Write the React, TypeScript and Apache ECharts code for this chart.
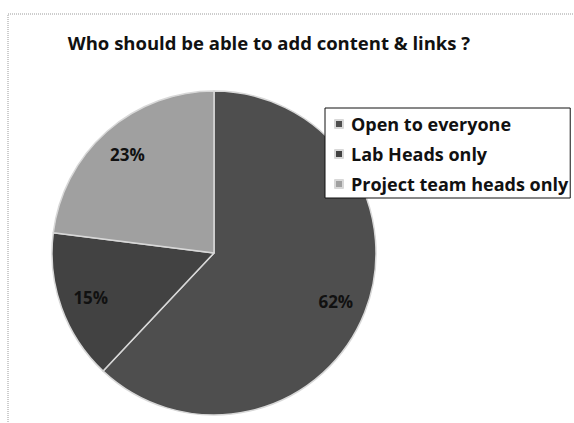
import React, { useEffect, useRef } from "react";
import * as echarts from "echarts";

const titleText = "Who should be able to add content & links ?";
const categories = ["Open to everyone", "Lab Heads only", "Project team heads only"];
const values = [62, 15, 23];
const sliceColors = ["#4e4e4e", "#424242", "#a0a0a0"];

export default function App() {
  const ref = useRef<HTMLDivElement>(null);
  useEffect(() => {
    if (!ref.current) return;
    const chart = echarts.init(ref.current, undefined, { renderer: "svg" });
    const data = categories.map((name, i) => ({
      name,
      value: values[i],
      itemStyle: { color: sliceColors[i] },
    }));
    const R = 162;
    chart.setOption({
      animation: false,
      backgroundColor: "#ffffff",
      title: {
        text: titleText,
        left: 264,
        textAlign: "center",
        top: 28,
        textStyle: {
          fontFamily: "Open Sans",
          fontWeight: "bold",
          fontSize: 18.5,
          color: "#111",
        },
      },
      legend: {
        orient: "vertical",
        left: 325,
        top: 108,
        z: 10,
        data: categories,
        icon: "rect",
        itemWidth: 8,
        itemHeight: 8,
        itemGap: 12,
        padding: [7, 2, 5, 9],
        backgroundColor: "#ffffff",
        borderColor: "#111",
        borderWidth: 1,
        borderRadius: 0,
        selectedMode: false,
        textStyle: {
          fontFamily: "Open Sans",
          fontWeight: "bold",
          fontSize: 18,
          color: "#111",
          lineHeight: 18,
          padding: [0, 0, 0, 3],
        },
      },
      graphic: [
        {
          type: "rect",
          z: 0,
          shape: { x: 8, y: 14, width: 640, height: 460 },
          style: { fill: "none", stroke: "#9a9a9a", lineWidth: 1, lineDash: [1, 1] },
        },
      ],
      series: [
        {
          type: "pie",
          z: 2,
          center: [214, 253],
          radius: [0, R],
          startAngle: 90,
          clockwise: true,
          silent: true,
          data,
          label: { show: false },
          labelLine: { show: false },
          itemStyle: { borderColor: "#d8d8d8", borderWidth: 1.5 },
        },
        {
          type: "pie",
          z: 3,
          center: [214, 253],
          radius: [0, R * 1.58],
          startAngle: 90,
          clockwise: true,
          silent: true,
          data: categories.map((name, i) => ({ name, value: values[i] })),
          itemStyle: { color: "rgba(0,0,0,0)", borderWidth: 0 },
          label: {
            show: true,
            position: "inside",
            formatter: "{c}%",
            fontFamily: "Open Sans",
            fontWeight: "bold",
            fontSize: 17,
            color: "#111",
          },
          labelLine: { show: false },
        },
      ],
    });
    return () => chart.dispose();
  }, []);
  return (
    <div
      ref={ref}
      style={{ position: "fixed", left: 0, top: 0, width: 574, height: 423 }}
    />
  );
}
